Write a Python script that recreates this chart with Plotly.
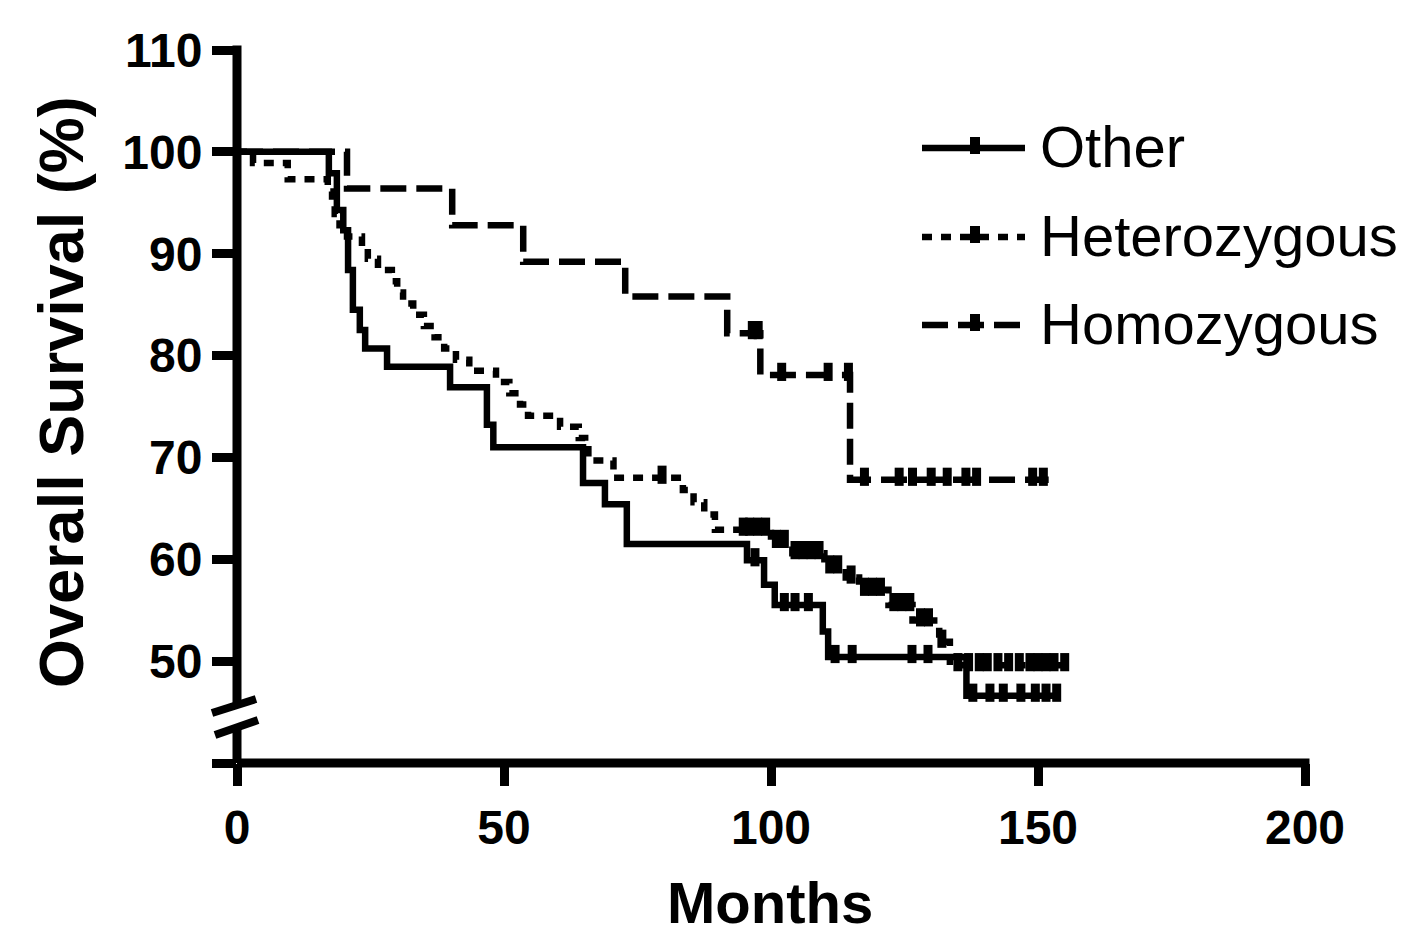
import plotly.graph_objects as go

# ---------------- data ----------------
other_t = [0, 17.2, 18.7, 19.9, 20.8, 21.7, 23.0, 24.0, 28.1, 39.9, 46.8, 48.0,
           64.8, 68.9, 73.0, 95.5, 98.7, 100.7, 109.7, 110.7, 136.6]
other_s = [100, 97.9, 94.3, 92.3, 88.4, 84.5, 82.5, 80.7, 78.9, 76.9, 73.2, 71.0,
           67.5, 65.4, 61.5, 59.9, 57.5, 55.5, 52.9, 50.4, 46.6]
other_cens = [97.0, 102.5, 104.5, 107.0, 112.0, 115.2, 126.4, 129.4, 137.8,
              141.0, 143.5, 146.8, 149.5, 151.5, 153.5]
other_end = 153.5

het_t = [0, 3.0, 9.5, 17.0, 17.8, 18.3, 19.2, 20.6, 23.4, 24.5, 26.4, 29.0, 30.0,
         31.1, 33.0, 35.0, 37.0, 38.8, 41.0, 43.5, 48.5, 51.0, 53.0, 54.5, 60.5,
         64.0, 65.2, 65.8, 70.5, 83.5, 85.5, 87.5, 89.5, 100.0, 104.0, 110.0,
         114.0, 116.5, 122.0, 126.5, 131.5, 133.5]
het_s = [100, 98.9, 97.3, 96.1, 95.0, 93.9, 92.8, 91.7, 90.6, 89.5, 88.4, 87.3, 86.2,
         85.1, 84.0, 82.9, 81.8, 80.7, 79.6, 78.5, 77.4, 76.3, 75.2, 74.1, 73.0,
         71.9, 70.8, 69.7, 68.0, 66.8, 65.6, 64.4, 62.9, 61.7, 60.6, 59.2,
         58.2, 57.0, 55.5, 54.0, 51.9, 49.6]
het_cens = [79.6, 94.8, 96.0, 97.5, 99.0, 101.0, 102.5, 104.5, 106.0, 107.5, 109.0,
            111.0, 112.5, 115.0, 117.5, 119.0, 120.5, 123.0, 124.5, 126.0, 128.0,
            129.5, 132.0, 135.0, 137.0, 139.0, 140.5, 142.5, 144.5, 146.5, 148.5,
            150.0, 151.5, 153.0, 155.0]
het_end = 155.3

hom_t = [0, 20.6, 40.3, 53.6, 72.7, 91.8, 98.0, 114.8]
hom_s = [100, 96.4, 92.8, 89.2, 85.8, 82.2, 78.1, 67.8]
hom_cens = [96.5, 97.6, 102.0, 110.7, 114.5, 117.5, 124.0, 126.5, 130.0, 133.0,
            136.5, 138.5, 149.0, 151.0]
hom_end = 152.0

series_names = ["Other", "Heterozygous", "Homozygous"]

x_ticks = [0, 50, 100, 150, 200]
y_ticks = [40, 50, 60, 70, 80, 90, 100, 110]
y_ticktext = ["", "50", "60", "70", "80", "90", "100", "110"]

# ---------------- layout constants ----------------
OFF = 8                      # default page body margin
W, H = 1417 - 2 * OFF, 946 - 2 * OFF
PLOT_L, PLOT_R, PLOT_T, PLOT_B = 237, 1305, 50, 763   # target screen pixels
PW, PH = PLOT_R - PLOT_L, PLOT_B - PLOT_T
L, T = PLOT_L - OFF, PLOT_T - OFF
R, B = W - L - PW, H - T - PH
FONT = "Liberation Sans"
AXW = 9


def px_x(px):
    return (px - PLOT_L) / PW


def px_y(py):
    return (PLOT_B - py) / PH


def level_at(ts, ss, t):
    v = ss[0]
    for ti, si in zip(ts, ss):
        if ti <= t:
            v = si
    return v


styles = [
    dict(dash="solid"),
    dict(dash="10px,9px"),
    dict(dash="26px,10px"),
]
LW = 6.5

fig = go.Figure()
for (ts, ss, cens, end), name, st in zip(
        [(other_t, other_s, other_cens, other_end),
         (het_t, het_s, het_cens, het_end),
         (hom_t, hom_s, hom_cens, hom_end)],
        series_names, styles):
    fig.add_trace(go.Scatter(
        x=ts + [end], y=ss + [ss[-1]], mode="lines", line_shape="hv",
        line=dict(color="black", width=LW, dash=st["dash"]),
        name=name, showlegend=False, hoverinfo="skip", cliponaxis=False))
    fig.add_trace(go.Scatter(
        x=cens, y=[level_at(ts, ss, c) + 0.3 for c in cens], mode="markers",
        marker=dict(symbol="line-ns-open", size=13, color="black",
                    line=dict(color="black", width=9)),
        showlegend=False, hoverinfo="skip"))

shapes = []
# axis lines centred on the plot edges
shapes.append(dict(type="line", xref="paper", yref="paper",
                   x0=0, x1=1 + AXW / 2 / PW, y0=0, y1=0,
                   line=dict(color="black", width=AXW), layer="above"))
shapes.append(dict(type="line", xref="paper", yref="paper",
                   x0=0, x1=0, y0=0, y1=1 + AXW / 2 / PH,
                   line=dict(color="black", width=AXW), layer="above"))
# axis break on the y axis
shapes.append(dict(type="rect", xref="paper", yref="paper",
                   x0=px_x(225), x1=px_x(250), y0=px_y(727), y1=px_y(705),
                   fillcolor="white", line=dict(width=0), layer="above"))
shapes.append(dict(type="line", xref="paper", yref="paper",
                   x0=px_x(212), y0=px_y(713), x1=px_x(256), y1=px_y(699),
                   line=dict(color="black", width=8), layer="above"))
shapes.append(dict(type="line", xref="paper", yref="paper",
                   x0=px_x(215), y0=px_y(735), x1=px_x(258), y1=px_y(720),
                   line=dict(color="black", width=8), layer="above"))

# custom legend
annotations = []
leg_y = [148, 237, 325]
for name, st, yy in zip(series_names, styles, leg_y):
    shapes.append(dict(type="line", xref="paper", yref="paper",
                       x0=px_x(922), x1=px_x(1025), y0=px_y(yy), y1=px_y(yy),
                       line=dict(color="black", width=LW, dash=st["dash"])))
    shapes.append(dict(type="rect", xref="paper", yref="paper",
                       x0=px_x(970), x1=px_x(980), y0=px_y(yy + 6), y1=px_y(yy - 11),
                       fillcolor="black", line=dict(width=0)))
    annotations.append(dict(text=name, xref="paper", yref="paper",
                            x=px_x(1038), y=px_y(yy - 2), xanchor="left",
                            yanchor="middle", showarrow=False,
                            font=dict(family=FONT, size=58, color="black")))

# axis titles
annotations.append(dict(text="<b>Overall Survival (%)</b>", xref="paper", yref="paper",
                        x=px_x(61), y=px_y(392), xanchor="center", yanchor="middle",
                        textangle=-90, showarrow=False,
                        font=dict(family=FONT, size=63, color="black")))
annotations.append(dict(text="<b>Months</b>", xref="paper", yref="paper",
                        x=px_x(770), y=px_y(903), xanchor="center", yanchor="middle",
                        showarrow=False,
                        font=dict(family=FONT, size=58, color="black")))

fig.update_layout(
    width=W, height=H,
    margin=dict(l=L, r=R, t=T, b=B),
    paper_bgcolor="white", plot_bgcolor="white",
    showlegend=False,
    shapes=shapes, annotations=annotations,
    xaxis=dict(range=[0, 200], tickvals=x_ticks, ticks="outside", ticklen=22,
               tickwidth=AXW, tickcolor="black", showline=False,
               showgrid=False, zeroline=False,
               tickfont=dict(family=FONT, size=48, color="black", weight="bold")),
    yaxis=dict(range=[40, 110], tickvals=y_ticks, ticktext=y_ticktext,
               ticks="outside", ticklen=24, tickwidth=AXW, tickcolor="black",
               showline=False, showgrid=False, zeroline=False,
               tickfont=dict(family=FONT, size=48, color="black", weight="bold")),
)

fig.write_html("out.html")
